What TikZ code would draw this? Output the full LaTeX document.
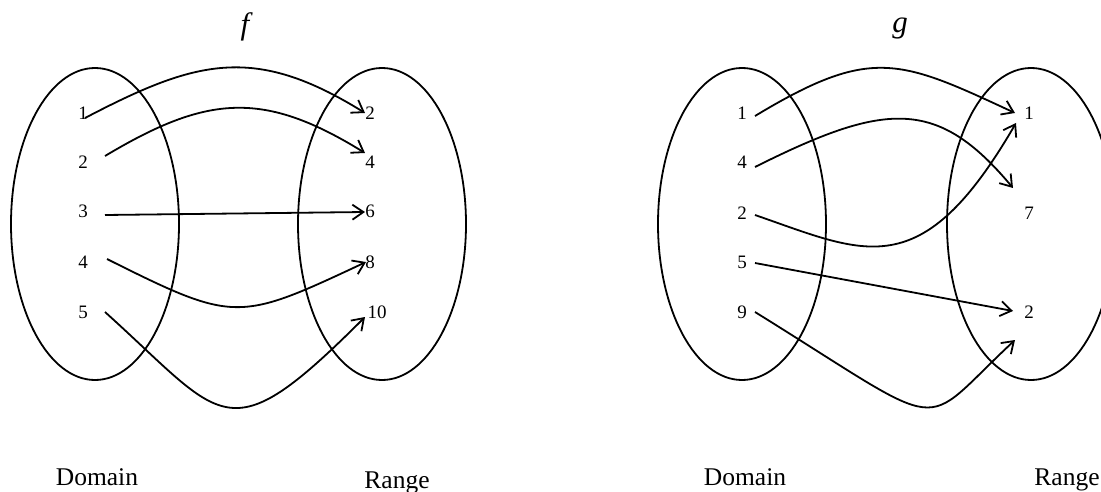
\documentclass[tikz,border=0pt]{standalone}
\usepackage{fontspec}
\setmainfont{Liberation Serif}
\usetikzlibrary{arrows.meta,shapes.geometric}
\begin{document}
\begin{tikzpicture}[x=1pt,y=-1pt,
  setbox/.style={draw, ellipse, line width=1.8pt, minimum width=168pt, minimum height=312pt, inner sep=0pt},
  num/.style={anchor=base, inner sep=0pt, font=\fontsize{19}{19}\selectfont},
  lab/.style={anchor=base, inner sep=0pt, font=\fontsize{25.5}{26}\selectfont},
  ttl/.style={anchor=base, inner sep=0pt, font=\fontsize{31}{31}\selectfont\itshape},
  maparrow/.style={line width=1.8pt, -{Straight Barb[length=11pt,width=15pt,line width=1.8pt]}}]
\clip (0,0) rectangle (1101,492);
% ---------- f ----------
\node[ttl] (tf) at (245,35) {f};
\node[setbox] (fD) at (95,224) {};
\node[setbox] (fR) at (382,224) {};
\node[num] (fa1) at (83,120) {1};
\node[num] (fa2) at (83,169) {2};
\node[num] (fa3) at (83,218) {3};
\node[num] (fa4) at (83,268) {4};
\node[num] (fa5) at (83,318) {5};
\node[num] (fb1) at (370,120) {2};
\node[num] (fb2) at (370,169) {4};
\node[num] (fb3) at (370,218) {6};
\node[num] (fb4) at (370,268) {8};
\node[num] (fb5) at (377,318) {10};
\node[lab] (fdl) at (97,485) {Domain};
\node[lab] (frl) at (397,488) {Range};
\draw[maparrow] ([shift={(2,-2)}]fa1.base) .. controls +(111,-58) and +(-111,-69) .. ([shift={(-5,-7)}]fb1.base);
\draw[maparrow] ([shift={(22,-13)}]fa2.base) .. controls +(102,-61) and +(-102,-63) .. ([shift={(-5,-16)}]fb2.base);
\draw[maparrow] ([shift={(22,-3)}]fa3.base) -- ([shift={(-5,-6)}]fb3.base);
\draw[maparrow] ([shift={(24,-9)}]fa4.base) .. controls +(128,64) and +(-128,60) .. ([shift={(-4,-6)}]fb4.base);
\draw[maparrow] ([shift={(22,-6)}]fa5.base) .. controls +(120,108) and +(-139,139) .. ([shift={(-12,-1)}]fb5.base);
% ---------- g ----------
\node[ttl] (tg) at (900,33) {g};
\node[setbox] (gD) at (742,224) {};
\node[setbox] (gR) at (1031,224) {};
\node[num] (ga1) at (742,120) {1};
\node[num] (ga2) at (742,169) {4};
\node[num] (ga3) at (742,219) {2};
\node[num] (ga4) at (742,268) {5};
\node[num] (ga5) at (742,318) {9};
\node[num] (gb1) at (1029,120) {1};
\node[num] (gb2) at (1029,219) {7};
\node[num] (gb3) at (1029,318) {2};
\node[lab] (gdl) at (745,485) {Domain};
\node[lab] (grl) at (1067,485) {Range};
\draw[maparrow] ([shift={(13,-4)}]ga1.base) .. controls +(116,-70) and +(-116,-54) .. ([shift={(-14,-7)}]gb1.base);
\draw[maparrow] ([shift={(13,-2)}]ga2.base) .. controls +(130,-65) and +(-76,-91) .. ([shift={(-16,-31)}]gb2.base);
\draw[maparrow] ([shift={(13,-4)}]ga3.base) .. controls +(110,38) and +(-95,164) .. ([shift={(-13,3)}]gb1.base);
\draw[maparrow] ([shift={(13,-5)}]ga4.base) -- ([shift={(-16,-7)}]gb3.base);
\draw[maparrow] ([shift={(13,-6)}]ga5.base) .. controls +(200,124) and +(-99,92) .. ([shift={(-14,22)}]gb3.base);
\end{tikzpicture}
\end{document}
